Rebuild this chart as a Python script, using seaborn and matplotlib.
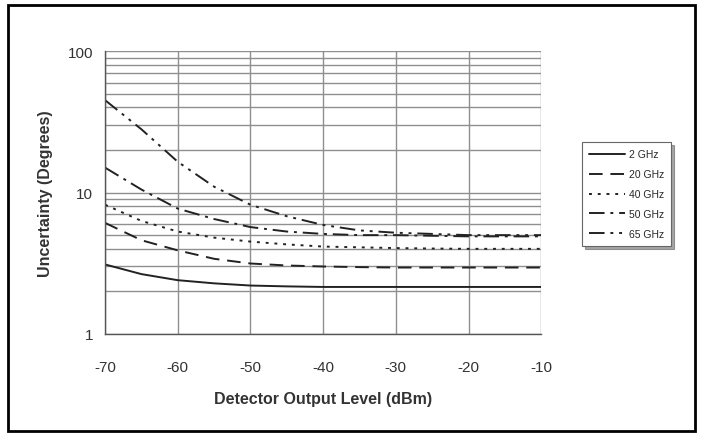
import numpy as np
import pandas as pd
import seaborn as sns
import matplotlib.pyplot as plt
from matplotlib.patches import Rectangle
from matplotlib.ticker import FixedLocator, NullFormatter, FixedFormatter

# data
level = [-70, -65, -60, -55, -50, -45, -40, -35, -30, -25, -20, -15, -10]
ghz_2 = [3.1, 2.65, 2.4, 2.28, 2.2, 2.17, 2.15, 2.15, 2.15, 2.15, 2.15, 2.15, 2.15]
ghz_20 = [6.1, 4.6, 3.9, 3.4, 3.15, 3.05, 3.0, 2.97, 2.95, 2.95, 2.95, 2.95, 2.95]
ghz_40 = [8.2, 6.3, 5.3, 4.8, 4.5, 4.3, 4.15, 4.1, 4.05, 4.02, 4.0, 4.0, 4.0]
ghz_50 = [15.0, 10.5, 7.7, 6.5, 5.7, 5.3, 5.1, 5.0, 5.0, 4.95, 4.9, 4.9, 4.9]
ghz_65 = [45.0, 28.0, 16.5, 11.0, 8.2, 6.8, 5.9, 5.4, 5.2, 5.1, 5.0, 5.0, 5.0]
series = ['2 GHz', '20 GHz', '40 GHz', '50 GHz', '65 GHz']

frames = []
for name, vals in zip(series, [ghz_2, ghz_20, ghz_40, ghz_50, ghz_65]):
	frames.append(pd.DataFrame({'level': level, 'unc': vals, 'freq': name}))
df = pd.concat(frames, ignore_index=True)

sns.set_style('white')
plt.rcParams['font.family'] = ['Liberation Sans', 'DejaVu Sans']
plt.rcParams['axes.unicode_minus'] = False

fig = plt.figure(figsize=(7.01, 4.35), dpi=100)
ax = fig.add_axes([0.150, 0.230, 0.622, 0.650])

dashes = {'2 GHz': '', '20 GHz': (7, 4), '40 GHz': (1.5, 3),
	'50 GHz': (8, 3, 1.5, 3), '65 GHz': (8, 3, 1.5, 3, 1.5, 3)}
sns.lineplot(ax=ax, data=df, x='level', y='unc', hue='freq', style='freq',
	dashes=dashes, palette=['#222222'] * 5, linewidth=1.4, legend=True)

ax.set_yscale('log')
ax.set_ylim(1, 100)
ax.set_xlim(-70, -10)
ax.yaxis.set_major_locator(FixedLocator([1, 10, 100]))
ax.yaxis.set_major_formatter(FixedFormatter(['1', '10', '100']))
ax.yaxis.set_minor_locator(FixedLocator([v * d for d in (1, 10) for v in range(2, 10)]))
ax.yaxis.set_minor_formatter(NullFormatter())
ax.set_xticks(range(-70, -9, 10))
ax.set_xticks(range(-70, -9, 2), minor=True)

ax.grid(True, which='major', axis='both', color='#8f8f8f', linewidth=1.0)
ax.grid(True, which='minor', axis='y', color='#8f8f8f', linewidth=1.0)
ax.set_axisbelow(True)

for side in ['top', 'right']:
	ax.spines[side].set_visible(False)
for side in ['left', 'bottom']:
	ax.spines[side].set_color('#555555')
	ax.spines[side].set_linewidth(1.0)

ax.tick_params(axis='x', which='both', direction='inout', length=6, color='#555555',
	labelsize=11, pad=16, labelcolor='#333333')
ax.tick_params(axis='x', which='minor', length=4)
ax.tick_params(axis='y', which='major', direction='out', length=5, color='#555555',
	labelsize=11, labelcolor='#333333')
ax.tick_params(axis='y', which='minor', length=0)

ax.set_xlabel('Detector Output Level (dBm)', fontsize=11.5, fontweight='bold',
	labelpad=12, color='#333333')
ax.set_ylabel('Uncertainty (Degrees)', fontsize=11.5, fontweight='bold',
	labelpad=11, color='#333333')

handles, labels = ax.get_legend_handles_labels()
leg = ax.legend(handles, labels, loc='upper left', bbox_to_anchor=(0.830, 0.671),
	bbox_transform=fig.transFigure, fontsize=7.5, frameon=True, fancybox=False,
	shadow=True, edgecolor='#666666', handlelength=3.4, labelspacing=0.95,
	borderpad=0.7, handletextpad=0.4, borderaxespad=0)
leg.get_frame().set_linewidth(0.8)

fig.patches.append(Rectangle((0.012, 0.006), 0.980, 0.980, transform=fig.transFigure,
	fill=False, edgecolor='black', linewidth=2.0))

fig.savefig('out.png', dpi=100)
